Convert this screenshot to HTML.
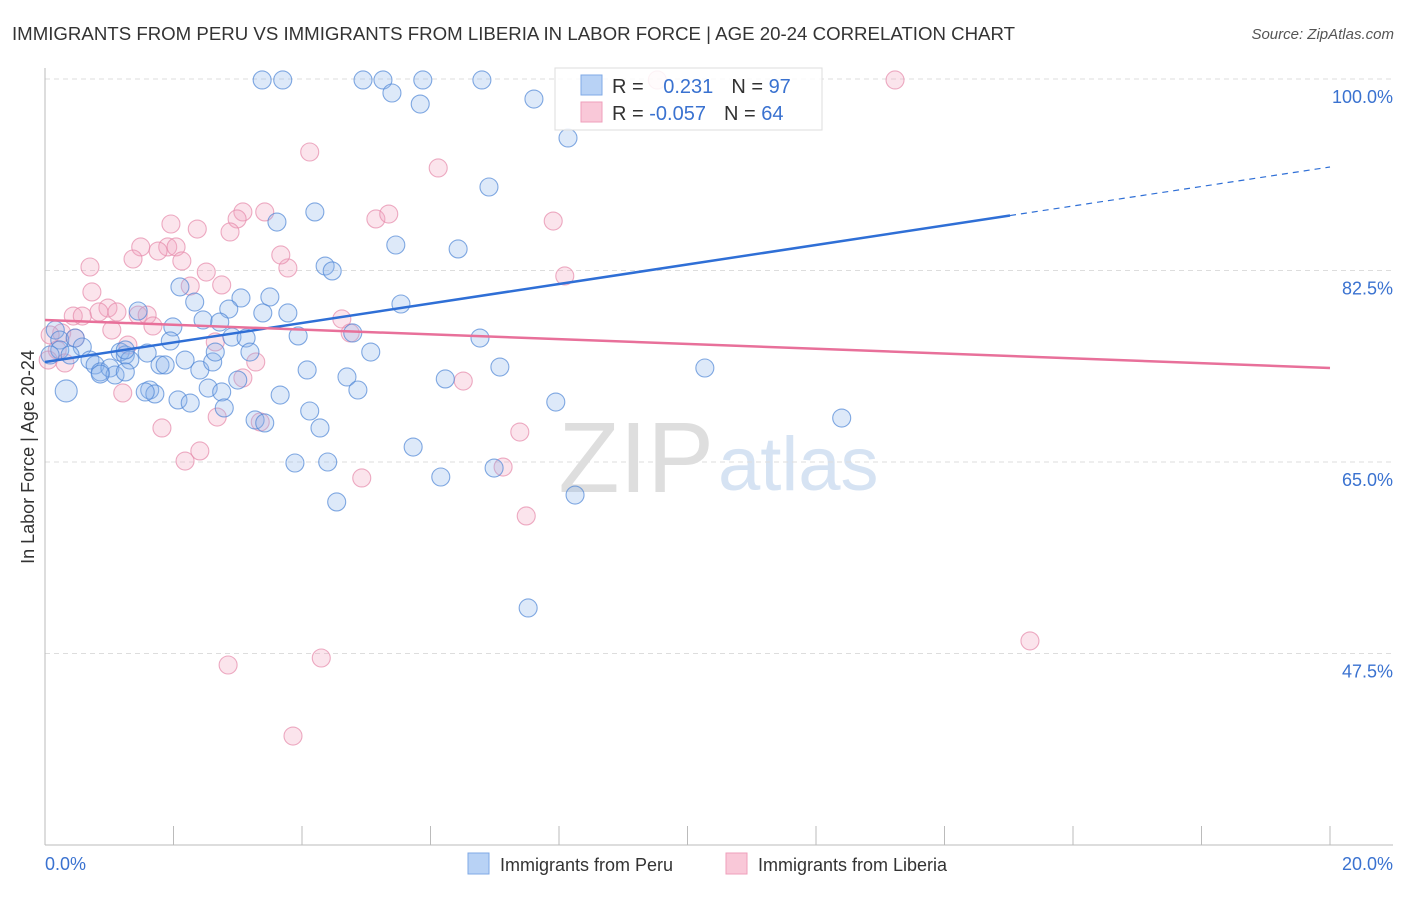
<!DOCTYPE html>
<html><head><meta charset="utf-8"><style>
body{margin:0;background:#fff;font-family:"Liberation Sans",sans-serif;}
svg text{font-family:"Liberation Sans",sans-serif;}
</style></head><body>
<svg id="chart" width="1406" height="892" viewBox="0 0 1406 892" xmlns="http://www.w3.org/2000/svg">
<text x="12" y="40" font-size="18" fill="#333" textLength="1003" lengthAdjust="spacingAndGlyphs">IMMIGRANTS FROM PERU VS IMMIGRANTS FROM LIBERIA IN LABOR FORCE | AGE 20-24 CORRELATION CHART</text>
<text x="1394" y="39" font-size="15" fill="#555" font-style="italic" text-anchor="end">Source: ZipAtlas.com</text>
<g>
<text x="714" y="492" font-size="100" fill="#dedede" text-anchor="end" font-family="Liberation Serif">ZIP</text>
<text x="718" y="490" font-size="76" fill="#d6e3f3">atlas</text>
</g>
<g id="grid"></g>
<g id="axes"></g>
<g id="pts"></g>
<g id="lines"></g>
<text transform="translate(34,457) rotate(-90)" font-size="18" fill="#333" text-anchor="middle">In Labor Force | Age 20-24</text>
<g>
<rect x="555" y="68" width="267" height="62" fill="#fff" fill-opacity="0.85" stroke="#ddd"/>
<rect x="581" y="75" width="21" height="20" fill="#b8d2f5" stroke="#7fa9e6"/>
<text x="612" y="93" font-size="20" fill="#333">R = <tspan fill="#3a72d0" dx="14">0.231</tspan><tspan fill="#333" dx="18">N = </tspan><tspan fill="#3a72d0">97</tspan></text>
<rect x="581" y="102" width="21" height="20" fill="#f9c8d8" stroke="#ef9fbb"/>
<text x="612" y="120" font-size="20" fill="#333">R = <tspan fill="#3a72d0">-0.057</tspan><tspan fill="#333" dx="18">N = </tspan><tspan fill="#3a72d0">64</tspan></text>
</g>
<g>
<rect x="468" y="853" width="21" height="21" fill="#b8d2f5" stroke="#7fa9e6"/>
<text x="500" y="871" font-size="18" fill="#333">Immigrants from Peru</text>
<rect x="726" y="853" width="21" height="21" fill="#f9c8d8" stroke="#ef9fbb"/>
<text x="758" y="871" font-size="18" fill="#333">Immigrants from Liberia</text>
</g>
</svg>
<script>
const peruX=[3.38,3.70,4.95,5.26,5.88,6.80,5.40,5.84,7.61,8.14,6.91,4.20,3.61,5.46,6.43,4.36,4.47,2.10,3.05,3.50,2.33,1.45,2.86,3.39,3.78,2.46,5.54,1.99,1.95,3.94,2.91,3.13,4.79,6.77,5.07,0.16,0.23,0.47,0.58,0.23,0.08,0.39,0.70,0.78,0.86,1.01,1.17,1.25,1.32,1.59,1.79,1.87,2.18,2.41,2.61,2.65,3.19,4.08,7.08,10.27,4.70,6.23,1.09,1.25,0.86,1.63,1.71,1.56,2.54,2.75,3.00,3.66,4.87,2.07,2.26,2.79,3.27,3.42,4.12,4.28,7.95,12.40,5.73,3.89,4.40,6.16,6.99,8.25,4.54,7.52,0.33,1.25,2.72];
const peruY=[99.91,99.91,99.91,99.91,99.91,99.91,98.72,97.71,98.17,94.61,90.13,87.85,86.93,84.83,84.47,82.91,82.46,81.00,79.99,80.08,79.62,78.80,78.98,78.62,78.62,77.98,79.44,77.34,76.06,76.52,76.42,76.33,76.79,76.33,75.05,77.06,76.15,76.33,75.51,75.24,74.78,74.78,74.32,73.87,73.23,73.59,75.05,74.78,74.32,74.96,73.87,73.87,74.32,73.41,74.14,75.05,75.05,73.41,73.68,73.59,72.77,72.59,72.95,73.23,73.04,71.58,71.22,71.40,71.76,71.40,72.49,71.12,71.58,70.67,70.39,69.94,68.84,68.57,69.66,68.11,70.48,69.02,66.37,64.91,65.00,63.63,64.45,61.98,61.35,51.66,71.49,75.24,77.79];
const libX=[9.53,13.23,4.12,6.12,3.42,3.08,5.15,5.35,7.91,2.99,1.96,2.37,2.88,1.49,1.91,2.04,1.76,2.13,1.37,0.70,3.78,2.51,3.67,8.09,0.73,2.75,2.26,0.98,0.84,1.12,0.44,0.58,1.45,1.59,4.62,1.68,1.04,0.26,0.47,0.08,2.65,1.29,4.75,0.19,0.05,0.31,3.28,3.08,1.21,6.51,2.68,3.35,1.82,2.18,2.41,7.39,7.13,4.93,7.49,15.33,4.30,2.85,3.86];
const libY=[99.91,99.91,93.33,91.87,87.85,87.85,87.21,87.66,87.02,87.21,86.75,86.29,86.02,84.65,84.65,84.65,84.28,83.37,83.55,82.82,82.73,82.36,83.92,82.00,80.54,81.18,81.08,79.07,78.71,78.71,78.34,78.34,78.43,78.43,78.07,77.43,77.06,76.79,76.33,76.61,75.97,75.69,76.79,75.24,74.32,74.05,74.14,72.68,71.31,72.40,69.11,68.66,68.11,65.09,66.01,67.74,64.54,63.54,60.07,48.65,47.09,46.45,39.96];
const peruTrend=[74.14,91.96];
const libTrend=[77.98,73.59];
const yTicks=[100.0,82.5,65.0,47.5];
const xTickLabels=["0.0%","20.0%"];

const NS="http://www.w3.org/2000/svg";
const X=v=>45+v*64.25;
const Y=v=>79+(100-v)*10.943;
function mk(tag,attrs,parent){const e=document.createElementNS(NS,tag);for(const k in attrs)e.setAttribute(k,attrs[k]);parent.appendChild(e);return e;}
const grid=document.getElementById('grid'),axes=document.getElementById('axes'),pts=document.getElementById('pts'),lines=document.getElementById('lines');
yTicks.forEach(t=>{
  const l=mk('line',{x1:45,x2:1393,y1:Y(t),y2:Y(t),stroke:'#ddd','stroke-dasharray':'5,4'},grid);
  
  
  const tx=mk('text',{x:1393,y:Y(t)+24,'font-size':18,fill:'#3a72d0','text-anchor':'end'},axes);
  tx.textContent=t.toFixed(1)+'%';
  
  
});
let a=mk('line',{x1:45,x2:45,y1:68,y2:845,stroke:'#bbb'},axes);


a=mk('line',{x1:45,x2:1393,y1:845,y2:845,stroke:'#bbb'},axes);


for(let i=0;i<=10;i++){
  const t=mk('line',{x1:X(i*2),x2:X(i*2),y1:826,y2:845,stroke:'#bbb'},axes);
  
  
}
let xl=mk('text',{x:45,y:870,'font-size':18,fill:'#3a72d0'},axes);xl.textContent=xTickLabels[0];


xl=mk('text',{x:1393,y:870,'font-size':18,fill:'#3a72d0','text-anchor':'end'},axes);xl.textContent=xTickLabels[1];


function dots(xs,ys,fill,stroke,name,bigIdx){
  xs.forEach((x,i)=>{
    const c=mk('circle',{cx:X(x),cy:Y(ys[i]),r:bigIdx===i?11:9,fill:fill,'fill-opacity':0.3,stroke:stroke,'stroke-opacity':0.7,'stroke-width':1.1},pts);
    
    
  });
}
dots(libX,libY,'#f3a6c0','#e689a9','point-liberia',-1);
dots(peruX,peruY,'#8fb6ec','#4f86d6','point-peru',90);
const xEnd=15.02;
let ln=mk('line',{x1:X(0),y1:Y(peruTrend[0]),x2:X(xEnd),y2:Y(peruTrend[0]+(peruTrend[1]-peruTrend[0])*xEnd/20),stroke:'#2f6fd6','stroke-width':2.5},lines);


ln=mk('line',{x1:X(xEnd),y1:Y(peruTrend[0]+(peruTrend[1]-peruTrend[0])*xEnd/20),x2:X(20),y2:Y(peruTrend[1]),stroke:'#2f6fd6','stroke-width':1.2,'stroke-dasharray':'6,5'},lines);


ln=mk('line',{x1:X(0),y1:Y(libTrend[0]),x2:X(20),y2:Y(libTrend[1]),stroke:'#e8709a','stroke-width':2.5},lines);


</script>
</body></html>
